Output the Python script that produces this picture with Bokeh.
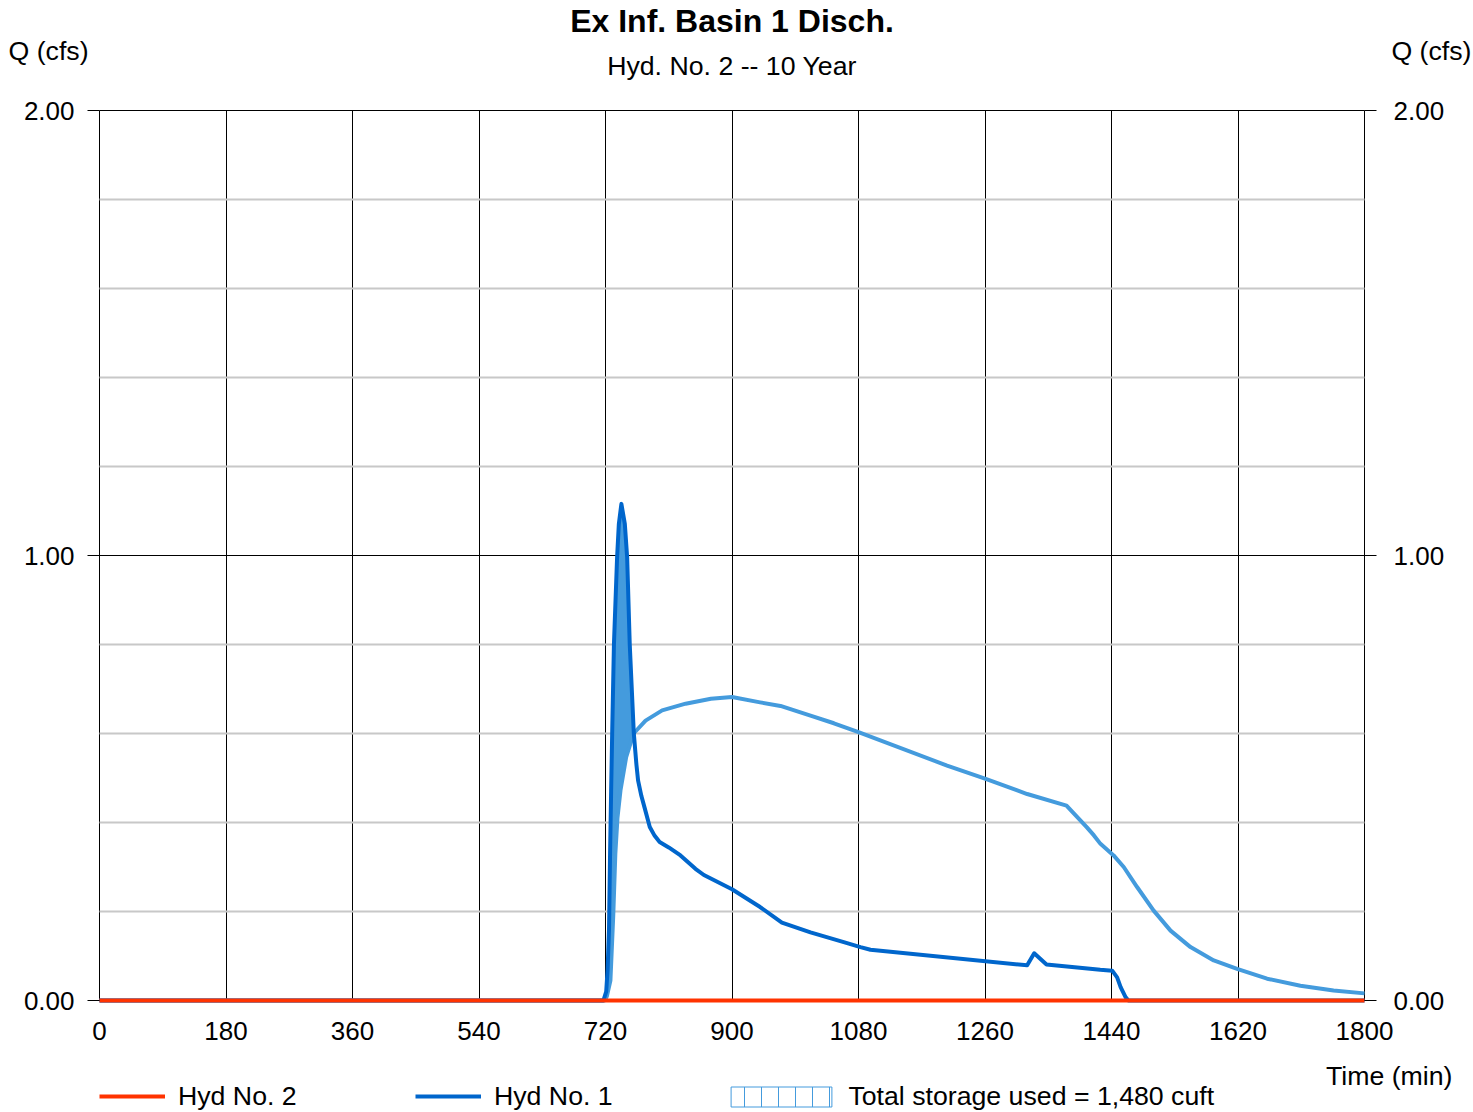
from bokeh.plotting import figure
from bokeh.models import (Range1d, FixedTicker, LinearAxis, Legend, LegendItem, Label,
                          BoxAnnotation, ColumnDataSource, PrintfTickFormatter)
from bokeh.embed import file_html
from bokeh.resources import INLINE

FONT = "Liberation Sans"
RED = "#ff3300"
DARK = "#0066cc"
LIGHT = "#449bdd"

# ---------------- data ----------------
x_ticks = [0, 180, 360, 540, 720, 900, 1080, 1260, 1440, 1620, 1800]
y_ticks = [0, 1, 2]
y_minor = [0.2, 0.4, 0.6, 0.8, 1.2, 1.4, 1.6, 1.8]

# Hyd No. 2 (outflow) - zero throughout
hyd2_t = [0, 1800]
hyd2_q = [0.0, 0.0]

# Hyd No. 1 (inflow)
hyd1_t = [0, 717, 721, 723, 725, 726.5, 728, 729.5, 732, 736.5, 739, 742.6, 747.5, 750.8,
          754.5, 760.3, 764, 766.4, 771, 775.5, 783, 790, 797, 810, 826.7, 848, 860, 900,
          940, 971, 1011.7, 1059, 1082.8, 1097, 1320, 1330, 1347.5, 1424, 1441, 1448, 1453,
          1460, 1464, 1800]
hyd1_q = [0.0, 0.0, 0.02, 0.07, 0.16, 0.33, 0.47, 0.60, 0.80, 0.996, 1.071, 1.116, 1.071,
          0.996, 0.80, 0.60, 0.53, 0.494, 0.46, 0.434, 0.39, 0.37, 0.356, 0.344, 0.326,
          0.296, 0.282, 0.25, 0.21, 0.175, 0.153, 0.131, 0.12, 0.114, 0.079, 0.106, 0.081,
          0.069, 0.067, 0.052, 0.03, 0.0075, 0.0, 0.0]

# Storage indication curve
stor_t = [0, 719, 722, 727, 731, 734, 737, 741.3, 749.4, 760, 777, 800.6, 834, 870, 900,
          940, 969, 1011.7, 1045, 1080, 1206, 1261, 1320, 1376, 1405, 1415, 1424.3, 1443,
          1457.4, 1476.4, 1500, 1524, 1552.4, 1585.5, 1618.7, 1661.4, 1708.8, 1756, 1800]
stor_q = [0.0, 0.0, 0.01, 0.045, 0.19, 0.33, 0.41, 0.472, 0.547, 0.60, 0.629, 0.652, 0.667,
          0.678, 0.682, 0.670, 0.662, 0.64, 0.623, 0.603, 0.528, 0.498, 0.464, 0.438, 0.389,
          0.371, 0.352, 0.326, 0.30, 0.255, 0.202, 0.157, 0.12, 0.09, 0.071, 0.049, 0.033,
          0.0225, 0.016]

title_text = "Ex Inf. Basin 1 Disch."
subtitle_text = "Hyd. No. 2 -- 10 Year"
y_label = "Q (cfs)"
x_label = "Time (min)"
legend_labels = ["Hyd No. 2", "Hyd No. 1", "Total storage used = 1,480 cuft"]

# ---------------- geometry of the page ----------------
W, H = 1473, 1112
PX0, PX1 = 99, 1364      # pixel columns of t = 0 and t = 1800
PY0, PY2 = 1000, 110     # pixel rows of q = 0 and q = 2
XS = (PX1 - PX0) / 1800.0
YS = (PY0 - PY2) / 2.0
def dx(px):
    return (px - PX0) / XS
def dy(py):
    return (PY0 - py) / YS

p = figure(width=W, height=H, x_range=Range1d(dx(0), dx(W)), y_range=Range1d(dy(H), dy(0)),
           output_backend="svg", toolbar_location=None, title=None,
           min_border_left=0, min_border_right=0, min_border_top=0, min_border_bottom=0)
p.background_fill_color = "white"
p.border_fill_color = "white"
p.outline_line_color = None

# grids
p.xgrid.ticker = FixedTicker(ticks=x_ticks)
p.xgrid.grid_line_color = "black"
p.xgrid.grid_line_width = 1
p.ygrid.ticker = FixedTicker(ticks=y_ticks, minor_ticks=y_minor)
p.ygrid.grid_line_color = "black"
p.ygrid.grid_line_width = 1
p.ygrid.minor_grid_line_color = "#c8c8c8"
p.ygrid.minor_grid_line_width = 2
try:
    p.xgrid.cross_bounds = (0, 2)
    p.ygrid.cross_bounds = (0, 1800)
    have_cross = True
except Exception:
    have_cross = False
if not have_cross:
    ex, ey = 1.0 / XS, 1.0 / YS
    for kw in (dict(right=-ex), dict(left=1800 + ex), dict(bottom=2 + ey), dict(top=-ey)):
        p.add_layout(BoxAnnotation(fill_color="white", fill_alpha=1, line_color=None,
                                   level="underlay", **kw))

# x axis (drawn at q = 0)
xa = p.xaxis[0]
xa.fixed_location = 0
xa.ticker = FixedTicker(ticks=x_ticks)
xa.major_tick_line_color = None
xa.minor_tick_line_color = None
xa.axis_line_color = None
xa.major_tick_out = 0
xa.major_tick_in = 0
xa.major_label_standoff = 21
xa.major_label_text_font = FONT
xa.major_label_text_font_size = "26px"
xa.major_label_text_color = "black"

# y axes (drawn at t = 0 and t = 1800)
def style_y(ax, standoff):
    ax.ticker = FixedTicker(ticks=y_ticks)
    ax.formatter = PrintfTickFormatter(format="%.2f")
    ax.major_tick_out = 12
    ax.major_tick_in = 0
    ax.major_tick_line_color = "black"
    ax.minor_tick_line_color = None
    ax.axis_line_color = None
    ax.major_label_standoff = standoff
    ax.major_label_text_font = FONT
    ax.major_label_text_font_size = "26px"
    ax.major_label_text_color = "black"

ya = p.yaxis[0]
ya.fixed_location = 0
style_y(ya, 13)
ra = LinearAxis(fixed_location=1800)
style_y(ra, 17)
p.add_layout(ra, "right")

# ---------------- marks ----------------
fill_src = ColumnDataSource(data=dict(
    x=[t for t in hyd1_t if 717 <= t <= 760.3] + [t for t in stor_t if 719 <= t <= 760][::-1],
    y=[q for t, q in zip(hyd1_t, hyd1_q) if 717 <= t <= 760.3] +
      [q for t, q in zip(stor_t, stor_q) if 719 <= t <= 760][::-1]))
p.patch("x", "y", source=fill_src, fill_color=LIGHT, line_color=None)

r_stor = p.line(stor_t, stor_q, line_color=LIGHT, line_width=4, line_join="round")
r_h1 = p.line(hyd1_t, hyd1_q, line_color=DARK, line_width=4, line_join="round")
r_h2 = p.line(hyd2_t, hyd2_q, line_color=RED, line_width=4)

# legend-only sample for the storage (hatched box): placed one page width left of the
# canvas so that only its legend swatch is seen
box_src = ColumnDataSource(data=dict(x=[dx(-W)], y=[dy(H / 2.0)]))
r_box = p.rect("x", "y", width=1, height=0.01, source=box_src,
               fill_color="white", line_color=LIGHT, line_width=1,
               hatch_pattern="|", hatch_color=LIGHT, hatch_scale=17, hatch_weight=1)

# ---------------- legends ----------------
LFS = "26.7px"
def make_leg(labels, rends, loc, gw, gh, standoff, lw=20):
    return Legend(items=[LegendItem(label=l, renderers=[r]) for l, r in zip(labels, rends)],
                  location=loc, orientation="horizontal", border_line_color=None,
                  background_fill_alpha=0, padding=0, spacing=0, margin=0,
                  glyph_width=gw, glyph_height=gh, label_standoff=standoff, label_width=lw,
                  label_text_font=FONT, label_text_font_size=LFS,
                  label_text_color="black")

p.add_layout(make_leg(legend_labels[:2], [r_h2, r_h1], (99, 0.5), 66, 20, 13, lw=237))
p.add_layout(make_leg(legend_labels[2:], [r_box], (718.4, 0.5), 126, 25, 4))

# ---------------- texts ----------------
def lab(text, px, py, align, size=LFS, bold=False):
    p.add_layout(Label(x=dx(px), y=dy(py), text=text, text_align=align,
                       text_baseline="middle", text_font=FONT, text_font_size=size,
                       text_font_style="bold" if bold else "normal", text_color="black"))

lab(title_text, 731.5, 20, "center", size="32px", bold=True)
lab(subtitle_text, 731.5, 65, "center")
lab(y_label, 8, 50, "left")
lab(y_label, 1471, 50, "right")
lab(x_label, 1452, 1075, "right")

open("out.html", "w").write(file_html(p, INLINE))
